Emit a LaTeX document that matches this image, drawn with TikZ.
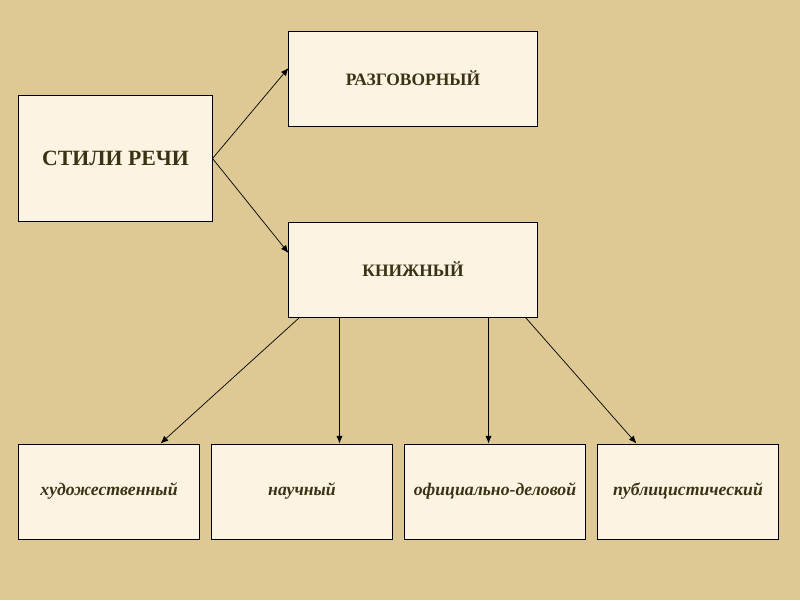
\documentclass[tikz,border=0pt]{standalone}
\usepackage{fontspec}
\setmainfont{Liberation Serif}
\usepackage{xcolor}
\usetikzlibrary{arrows.meta,positioning,calc}
\definecolor{pp}{HTML}{DEC994}
\definecolor{bx}{HTML}{FCF4E2}
\definecolor{tx}{HTML}{3A3214}
\tikzset{
  box/.style={draw=black, fill=bx, line width=0.7pt, text=tx, font=\bfseries, align=center},
  sub/.style={box, minimum width=4.5cm, minimum height=2.375cm, text height=1.6ex, text depth=0.5ex, font=\bfseries\itshape\fontsize{12.6}{14}\selectfont},
  arr/.style={-{Latex[length=5.5pt,width=4.5pt]}, line width=0.5pt}
}

\begin{document}
\begin{tikzpicture}[x=0.025cm, y=-0.025cm]
  \fill[pp] (0,0) rectangle (800,600);
  \useasboundingbox (0,0) rectangle (800,600);
  \node[box, minimum width=4.825cm, minimum height=3.125cm, font=\bfseries\fontsize{15.5}{17}\selectfont] (stili) at (115.5,158.5) {СТИЛИ РЕЧИ};
  \node[box, minimum width=6.2cm, minimum height=2.375cm, font=\bfseries\fontsize{12.4}{14}\selectfont] (razg) at (413,78.5) {РАЗГОВОРНЫЙ};
  \node[box, minimum width=6.2cm, minimum height=2.375cm, font=\bfseries\fontsize{12.4}{14}\selectfont] (knizh) at (413,269.5) {КНИЖНЫЙ};
  \node[sub] (hud) at (109,491.5) {художественный};
  \node[sub] (nauch) at (302,491.5) {научный};
  \node[sub] (ofic) at (495,491.5) {официально-деловой};
  \node[sub] (publ) at (688,491.5) {публицистический};
  \coordinate (k2) at ($(knizh.south west)+(51,0)$);
  \coordinate (k3) at ($(knizh.south east)+(-49,0)$);
  % arrows
  \draw[arr] (stili.east) -- ($(razg.west)+(0,-10.5)$);
  \draw[arr] (stili.east) -- ($(knizh.west)+(0,-16.5)$);
  \draw[arr] ($(knizh.south west)+(11,0)$) -- ($(hud.north east)+(-39,0)$);
  \draw[arr] (k2) -- (k2 |- nauch.north);
  \draw[arr] (k3) -- (k3 |- ofic.north);
  \draw[arr] ($(knizh.south east)+(-12,0)$) -- ($(publ.north west)+(39,0)$);
\end{tikzpicture}
\end{document}
